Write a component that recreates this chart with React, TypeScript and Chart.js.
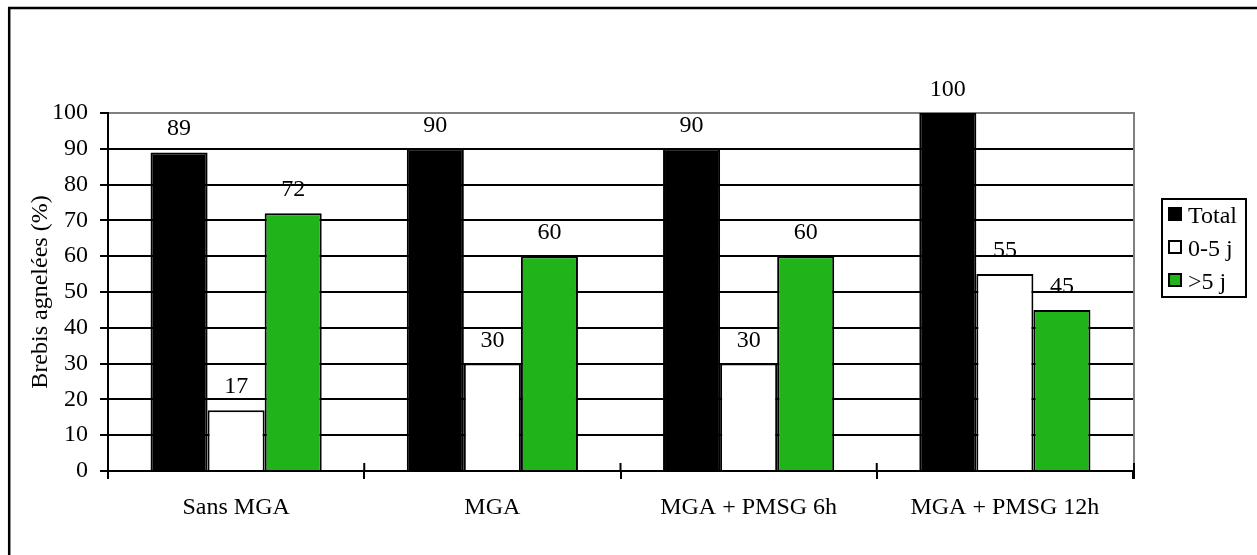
import React, { useEffect, useRef } from 'react';
import { Chart, registerables } from 'chart.js';

Chart.register(...registerables);

// Groups and values (% of ewes lambed)
const categories = ['Sans MGA', 'MGA', 'MGA + PMSG 6h', 'MGA + PMSG 12h'];
const totalValues = [89, 90, 90, 100];
const earlyValues = [17, 30, 30, 55];
const lateValues = [72, 60, 60, 45];
const seriesNames = ['Total', '0-5 j', '>5 j'];
const seriesColors = ['#000000', '#ffffff', '#21b41a'];
const yAxisTitle = 'Brebis agnelées (%)';
const yMin = 0;
const yMax = 100;
const yStep = 10;

const FONT = 'Liberation Serif, Times New Roman, serif';
const FONT_SIZE = 24;

// White page background and the frame's top/left edges
const framePlugin = {
  id: 'frame',
  beforeDraw(chart: any) {
    const { ctx, width, height } = chart;
    ctx.save();
    ctx.fillStyle = '#ffffff';
    ctx.fillRect(0, 0, width, height);
    ctx.strokeStyle = '#000000';
    ctx.lineWidth = 2.5;
    ctx.beginPath();
    ctx.moveTo(9.2, height);
    ctx.lineTo(9.2, 8);
    ctx.lineTo(width, 8);
    ctx.stroke();
    ctx.restore();
  },
};

// Grey right edge of the plot area and the upward part of the category ticks
const plotEdgesPlugin = {
  id: 'plotEdges',
  afterDatasetsDraw(chart: any) {
    const { ctx, chartArea, scales } = chart;
    const x = scales.x;
    ctx.save();
    ctx.strokeStyle = '#808080';
    ctx.lineWidth = 2;
    ctx.beginPath();
    ctx.moveTo(chartArea.right + 1, chartArea.top - 1);
    ctx.lineTo(chartArea.right + 1, chartArea.bottom);
    ctx.stroke();
    ctx.strokeStyle = '#000000';
    ctx.beginPath();
    for (let i = 1; i < categories.length; i++) {
      const bx = (x.getPixelForTick(i - 1) + x.getPixelForTick(i)) / 2;
      ctx.moveTo(bx, chartArea.bottom - 8);
      ctx.lineTo(bx, chartArea.bottom);
    }
    ctx.moveTo(chartArea.right + 1, chartArea.bottom - 8);
    ctx.lineTo(chartArea.right + 1, chartArea.bottom + 8);
    ctx.stroke();
    ctx.restore();
  },
};

// Value written above each bar
const valueLabelsPlugin = {
  id: 'valueLabels',
  afterDatasetsDraw(chart: any) {
    const { ctx } = chart;
    ctx.save();
    ctx.fillStyle = '#000000';
    ctx.font = `${FONT_SIZE}px ${FONT}`;
    ctx.textAlign = 'center';
    ctx.textBaseline = 'alphabetic';
    chart.data.datasets.forEach((ds: any, di: number) => {
      const meta = chart.getDatasetMeta(di);
      meta.data.forEach((el: any, i: number) => {
        ctx.fillText(String(ds.data[i]), el.x, el.y - 17);
      });
    });
    ctx.restore();
  },
};

// Boxed legend at the right
const boxLegendPlugin = {
  id: 'boxLegend',
  afterDraw(chart: any) {
    const { ctx } = chart;
    const left = 1162;
    const top = 199;
    const w = 84;
    const h = 98;
    ctx.save();
    ctx.strokeStyle = '#000000';
    ctx.lineWidth = 2;
    ctx.strokeRect(left, top, w, h);
    ctx.font = `${FONT_SIZE}px ${FONT}`;
    ctx.textAlign = 'left';
    ctx.textBaseline = 'alphabetic';
    seriesNames.forEach((name, i) => {
      const cy = 214 + i * 33;
      ctx.fillStyle = seriesColors[i];
      ctx.fillRect(1168, cy - 7, 14, 14);
      ctx.lineWidth = 2;
      ctx.strokeStyle = '#000000';
      ctx.strokeRect(1169, cy - 6, 12, 12);
      ctx.fillStyle = '#000000';
      ctx.fillText(name, 1188, cy + 9);
    });
    ctx.restore();
  },
};

export default function App() {
  const canvasRef = useRef<HTMLCanvasElement>(null);

  useEffect(() => {
    if (!canvasRef.current) return;
    const values = [totalValues, earlyValues, lateValues];
    const chart = new Chart(canvasRef.current, {
      type: 'bar',
      data: {
        labels: categories,
        datasets: seriesNames.map((name, i) => ({
          label: name,
          data: values[i],
          backgroundColor: seriesColors[i],
          borderColor: '#000000',
          borderWidth: 2,
          categoryPercentage: 0.668,
          barPercentage: 1,
        })),
      },
      options: {
        responsive: true,
        maintainAspectRatio: false,
        animation: false,
        events: [],
        layout: { padding: { left: 8, top: 113, right: 124, bottom: 0 } },
        plugins: {
          legend: { display: false },
          tooltip: { enabled: false },
        },
        scales: {
          x: {
            afterFit: (scale: any) => {
              scale.height = 84;
            },
            grid: {
              display: true,
              drawOnChartArea: false,
              drawTicks: true,
              tickLength: 8,
              color: '#000000',
              lineWidth: 2,
              offset: true,
            },
            border: { display: true, color: '#000000', width: 2 },
            ticks: {
              color: '#000000',
              padding: 14,
              font: { family: FONT, size: FONT_SIZE },
              maxRotation: 0,
              autoSkip: false,
            },
          },
          y: {
            min: yMin,
            max: yMax,
            afterFit: (scale: any) => {
              scale.width = 100;
            },
            grid: {
              color: (c: any) => (c.tick && c.tick.value === yMax ? '#808080' : '#000000'),
              tickColor: '#000000',
              lineWidth: 2,
              drawTicks: true,
              tickLength: 8,
            },
            border: { display: true, color: '#000000', width: 2 },
            ticks: {
              stepSize: yStep,
              color: '#000000',
              padding: 12,
              font: { family: FONT, size: FONT_SIZE },
            },
            title: {
              display: true,
              text: yAxisTitle,
              color: '#000000',
              font: { family: FONT, size: FONT_SIZE },
              padding: { top: 18, bottom: 0 },
            },
          },
        },
      },
      plugins: [framePlugin, plotEdgesPlugin, valueLabelsPlugin, boxLegendPlugin],
    });
    return () => chart.destroy();
  }, []);

  return (
    <div style={{ position: 'fixed', left: 0, top: 0, width: 1257, height: 555, background: '#ffffff' }}>
      <canvas ref={canvasRef} />
    </div>
  );
}
